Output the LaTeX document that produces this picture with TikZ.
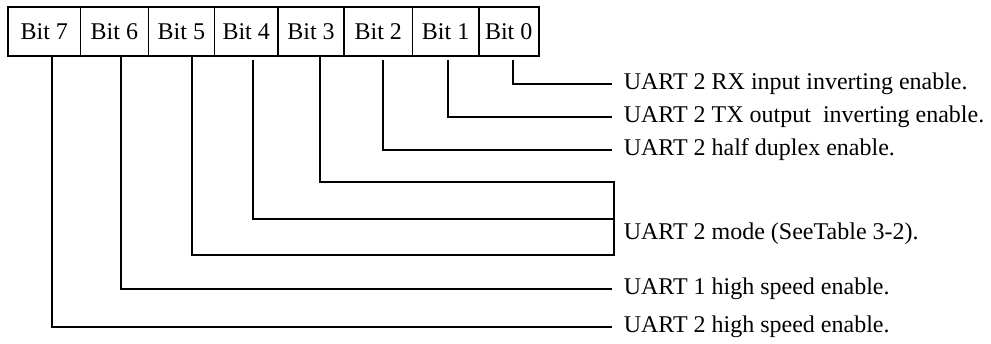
\documentclass[tikz,border=0pt]{standalone}
\usepackage{fontspec}
\setmainfont{Liberation Serif}
\usetikzlibrary{positioning}

\begin{document}
\begin{tikzpicture}[x=1pt,y=-1pt,node distance=0pt,line width=1.6pt]
	\tikzstyle{bitbox}=[rectangle, draw=black, minimum height=49pt, inner sep=0pt, outer sep=0pt, font=\fontsize{24}{28}\selectfont]
	\tikzstyle{desc}=[anchor=west, inner xsep=11pt, inner ysep=0pt, font=\fontsize{24}{28}\selectfont]
	\tikzstyle{wire}=[draw=black, line width=1.6pt]

	\useasboundingbox (0,0) rectangle (991,344);

	% register bits
	\node [bitbox, minimum width=72.5pt, anchor=north west] (b7) at (8,7) {Bit 7};
	\node [bitbox, minimum width=67.8pt] (b6) [right=of b7] {Bit 6};
	\node [bitbox, minimum width=66.1pt] (b5) [right=of b6] {Bit 5};
	\node [bitbox, minimum width=63.6pt] (b4) [right=of b5] {Bit 4};
	\node [bitbox, minimum width=66pt] (b3) [right=of b4] {Bit 3};
	\node [bitbox, minimum width=68.6pt] (b2) [right=of b3] {Bit 2};
	\node [bitbox, minimum width=66.1pt] (b1) [right=of b2] {Bit 1};
	\node [bitbox, minimum width=60pt] (b0) [right=of b1] {Bit 0};

	% descriptions
	\node [desc] (rx) at (612,84) {UART 2 RX input inverting enable.};
	\node [desc] (tx) at (612,117) {UART 2 TX output\ \ inverting enable.};
	\node [desc] (hd) at (612,150) {UART 2 half duplex enable.};
	\node [desc, inner xsep=9pt] (mode) at (614,234) {UART 2 mode (SeeTable 3-2).};
	\node [desc] (hs1) at (612,289) {UART 1 high speed enable.};
	\node [desc] (hs2) at (612,327) {UART 2 high speed enable.};

	% taps under the boxes
	\coordinate (t0) at (513,60);
	\coordinate (t1) at (448,60);
	\coordinate (t2) at (383,60);
	\coordinate (t3) at (320,56);
	\coordinate (t4) at (253,60);
	\coordinate (t5) at (192,56);
	\coordinate (t6) at (121,56);
	\coordinate (t7) at (52,56);
	\coordinate (m3) at (614,182);
	\coordinate (m4) at (614,219);
	\coordinate (m5) at (614,255);

	\draw [wire] (t0) |- (rx.west);
	\draw [wire] (t1) |- (tx.west);
	\draw [wire] (t2) |- (hd.west);
	\draw [wire] (t3) |- (m3) -- (m5) -| (t5);
	\draw [wire] (t4) |- (m4);
	\draw [wire] (t6) |- (hs1.west);
	\draw [wire] (t7) |- (hs2.west);
\end{tikzpicture}
\end{document}
